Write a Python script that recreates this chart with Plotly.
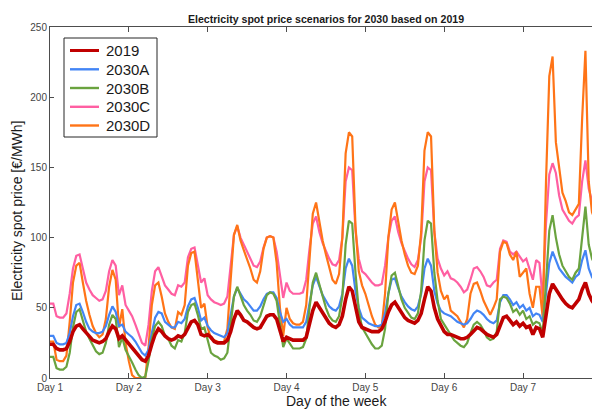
import plotly.graph_objects as go

hours = list(range(168))
day_ticks = [0, 24, 48, 72, 96, 120, 144]
day_labels = ["Day 1", "Day 2", "Day 3", "Day 4", "Day 5", "Day 6", "Day 7"]
y_ticks = [0, 50, 100, 150, 200, 250]

p2019 = [24, 24, 21, 20, 20, 21, 26, 33, 37, 38, 35, 32, 29, 27, 26, 25, 26, 28, 33, 37, 35, 28, 30, 27,
         25, 22, 19, 16, 13, 12, 16, 24, 31, 35, 33, 30, 28, 27, 28, 30, 29, 31, 36, 40, 41, 38, 31, 30,
         31, 29, 26, 25, 25, 25, 27, 33, 42, 48, 45, 41, 40, 38, 36, 35, 36, 40, 44, 45, 45, 42, 34, 26,
         29, 28, 27, 27, 27, 27, 29, 38, 48, 54, 50, 46, 42, 39, 37, 36, 38, 44, 56, 65, 62, 50, 40, 36,
         35, 34, 33, 33, 33, 35, 40, 47, 52, 54, 50, 46, 43, 41, 40, 39, 41, 46, 56, 65, 62, 50, 42, 37,
         33, 31, 31, 30, 29, 28, 28, 29, 31, 34, 36, 35, 33, 31, 30, 29, 31, 38, 43, 44, 41, 38, 40, 37,
         39, 36, 37, 31, 36, 35, 29, 45, 60, 67, 63, 59, 56, 53, 51, 50, 53, 56, 63, 68, 60, 55, 52, 50]

p2030A = [30, 30, 25, 24, 24, 25, 32, 44, 52, 53, 47, 40, 35, 33, 32, 32, 33, 37, 45, 51, 47, 37, 38, 33,
          31, 29, 26, 22, 18, 16, 20, 32, 43, 47, 46, 40, 38, 36, 36, 40, 39, 42, 51, 56, 57, 50, 41, 43,
          37, 34, 32, 31, 30, 29, 32, 44, 58, 64, 60, 56, 54, 51, 48, 48, 51, 56, 60, 61, 61, 57, 47, 40,
          42, 38, 36, 36, 36, 36, 40, 52, 66, 72, 65, 59, 55, 51, 49, 48, 51, 60, 78, 85, 80, 62, 50, 43,
          41, 39, 38, 37, 37, 38, 46, 60, 70, 71, 64, 58, 54, 51, 49, 48, 51, 60, 78, 85, 80, 62, 53, 48,
          46, 45, 44, 42, 40, 39, 38, 39, 42, 46, 48, 47, 45, 42, 40, 39, 41, 54, 59, 59, 56, 52, 54, 50,
          52, 48, 50, 44, 46, 45, 40, 60, 82, 90, 84, 78, 75, 72, 70, 68, 72, 74, 84, 91, 78, 72, 68, 65]

p2030B = [15, 15, 7, 6, 6, 8, 18, 36, 47, 49, 41, 33, 28, 23, 19, 17, 18, 25, 38, 45, 42, 22, 29, 20,
          16, 11, 6, 2, 0, 1, 12, 28, 37, 40, 37, 30, 28, 23, 21, 27, 26, 32, 47, 52, 53, 45, 35, 36,
          27, 18, 16, 15, 13, 14, 18, 38, 58, 65, 58, 52, 48, 45, 41, 40, 44, 52, 59, 61, 60, 55, 40, 22,
          28, 24, 21, 21, 21, 22, 28, 50, 68, 75, 66, 58, 50, 44, 41, 40, 44, 58, 95, 112, 110, 75, 48, 36,
          32, 27, 24, 21, 21, 23, 35, 60, 73, 75, 65, 56, 50, 46, 43, 42, 46, 62, 98, 112, 110, 75, 55, 42,
          38, 34, 30, 27, 25, 23, 22, 25, 32, 38, 40, 38, 34, 29, 27, 28, 33, 56, 58, 57, 53, 47, 49, 45,
          48, 42, 44, 38, 40, 39, 32, 70, 105, 116, 100, 88, 80, 76, 72, 70, 75, 78, 100, 122, 95, 85, 80, 76]

p2030C = [53, 53, 44, 43, 43, 46, 60, 78, 87, 88, 78, 68, 63, 59, 57, 55, 56, 62, 76, 84, 80, 59, 66, 52,
          48, 44, 38, 31, 25, 23, 38, 62, 76, 79, 72, 66, 63, 60, 59, 66, 65, 68, 86, 92, 93, 80, 68, 71,
          59, 56, 54, 53, 52, 53, 58, 80, 102, 108, 100, 95, 90, 84, 80, 79, 83, 93, 100, 101, 100, 90, 72, 57,
          68, 62, 60, 60, 60, 61, 70, 92, 110, 115, 104, 96, 90, 85, 81, 80, 84, 100, 140, 150, 148, 105, 85, 76,
          74, 71, 68, 66, 66, 67, 80, 100, 112, 115, 104, 96, 90, 85, 81, 79, 84, 100, 140, 150, 148, 104, 85, 78,
          73, 76, 71, 70, 68, 65, 61, 63, 70, 78, 79, 76, 72, 66, 65, 68, 70, 92, 98, 97, 90, 88, 90, 86,
          83, 85, 77, 70, 84, 82, 56, 110, 145, 153, 146, 130, 120, 116, 112, 110, 114, 116, 140, 155, 135, 126, 120, 115]

p2030D = [26, 26, 13, 12, 12, 16, 40, 68, 80, 82, 68, 55, 45, 37, 32, 29, 31, 42, 65, 77, 70, 36, 49, 25,
          12, 2, 0, 0, 0, 0, 22, 52, 66, 68, 58, 46, 40, 36, 35, 47, 45, 52, 80, 89, 90, 70, 50, 53,
          36, 28, 27, 26, 25, 26, 35, 70, 102, 109, 98, 91, 85, 78, 70, 68, 76, 92, 100, 101, 100, 82, 50, 30,
          50, 42, 39, 38, 38, 40, 52, 88, 117, 125, 110, 98, 88, 78, 70, 67, 74, 100, 160, 175, 172, 108, 76, 66,
          60, 52, 44, 38, 36, 37, 60, 100, 120, 125, 110, 98, 88, 80, 75, 74, 80, 104, 162, 175, 172, 105, 75, 62,
          56, 59, 48, 46, 44, 40, 36, 42, 60, 67, 68, 62, 55, 50, 45, 50, 56, 90, 97, 96, 88, 84, 90, 72,
          75, 78, 60, 50, 65, 65, 43, 140, 215, 229, 168, 150, 132, 126, 118, 116, 120, 124, 185, 233, 140, 118, 112, 108]

legend_names = ["2019", "2030A", "2030B", "2030C", "2030D"]
colours = {"2019": "#C00000", "2030A": "#4385F5", "2030B": "#6AA33F",
           "2030C": "#FF5FA2", "2030D": "#FF7417"}
widths = {"2019": 3.6, "2030A": 2.2, "2030B": 2.2, "2030C": 2.2, "2030D": 2.2}
values = {"2019": p2019, "2030A": p2030A, "2030B": p2030B, "2030C": p2030C, "2030D": p2030D}
draw_order = ["2030C", "2030D", "2030A", "2030B", "2019"]

W, H = 592, 410
L, T, B = 50, 27, 32
pw, ph = W - L, H - T - B


def px(xp):
    return (xp - L) / pw


def py(yp):
    return (H - B - yp) / ph


fig = go.Figure()
for name in draw_order:
    fig.add_trace(go.Scatter(x=hours, y=values[name], mode="lines", name=name,
                             line=dict(color=colours[name], width=widths[name]),
                             showlegend=False))

# legend drawn as box + line samples + text
shapes = [dict(type="rect", xref="paper", yref="paper", x0=px(64), x1=px(157),
               y0=py(137), y1=py(38), line=dict(color="#262626", width=1),
               fillcolor="white", layer="above")]
annotations = []
row_y = [50.5, 69.3, 88.0, 106.8, 125.5]
for name, yy in zip(legend_names, row_y):
    shapes.append(dict(type="line", xref="paper", yref="paper", x0=px(70), x1=px(99),
                       y0=py(yy), y1=py(yy), layer="above",
                       line=dict(color=colours[name], width=3.0 if name == "2019" else 2.4)))
    annotations.append(dict(text=name, xref="paper", yref="paper", x=px(104), y=py(yy),
                            xanchor="left", yanchor="middle", showarrow=False,
                            font=dict(size=15, color="#1a1a1a")))

annotations.append(dict(text="Electricity spot price [€/MWh]", xref="paper", yref="paper",
                        x=px(17), y=py(211), textangle=-90, showarrow=False,
                        xanchor="center", yanchor="middle",
                        font=dict(size=14, color="#1a1a1a")))
annotations.append(dict(text="Day of the week", xref="paper", yref="paper",
                        x=px(336), y=py(401), showarrow=False,
                        xanchor="center", yanchor="middle",
                        font=dict(size=14, color="#1a1a1a")))

axis_col = "#4d4d4d"
fig.update_layout(
    width=W, height=H,
    margin=dict(l=L, r=0, t=T, b=B, pad=0),
    paper_bgcolor="white", plot_bgcolor="white",
    font=dict(family="Liberation Sans, Arial, sans-serif", color="#262626"),
    title=dict(text="<b>Electricity spot price scenarios for 2030 based on 2019</b>",
               x=px(326), xref="paper", xanchor="center",
               y=1 - 19 / H, yref="container", yanchor="middle",
               font=dict(size=10.6, color="#1a1a1a")),
    showlegend=False,
    shapes=shapes,
    annotations=annotations,
    xaxis=dict(range=[0, 165], tickvals=day_ticks, ticktext=day_labels,
               ticks="inside", ticklen=5, tickcolor=axis_col, showline=True,
               linecolor=axis_col, linewidth=1, mirror="ticks", showgrid=False,
               zeroline=False, tickfont=dict(size=10, color="#444444")),
    yaxis=dict(range=[0, 250], tickvals=y_ticks, ticks="inside", ticklen=4,
               tickcolor=axis_col, showline=True, linecolor=axis_col, linewidth=1,
               showgrid=False, zeroline=False, tickfont=dict(size=10, color="#444444")),
)

fig.write_html("out.html", config={"displayModeBar": False},
               post_script="document.body.style.margin='0';document.body.style.overflow='hidden';")
